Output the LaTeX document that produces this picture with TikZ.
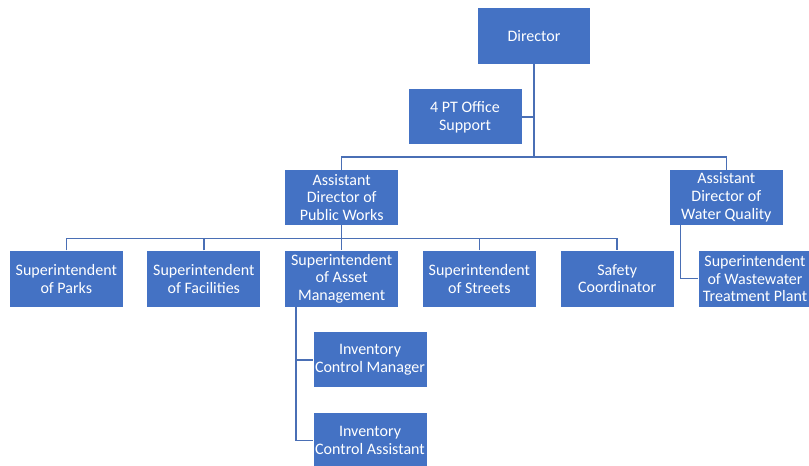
\documentclass[tikz,border=0pt]{standalone}
\usepackage{fontspec}
\setmainfont{Carlito}
\definecolor{boxblue}{HTML}{4472C4}
\definecolor{lineblue}{HTML}{4A6FB5}
\begin{document}
\begin{tikzpicture}[x=0.75pt,y=-0.75pt,
  box/.style={fill=boxblue,draw=none,text=white,minimum width=113*0.75pt,minimum height=55*0.75pt,inner sep=0pt,align=center,font=\fontsize{12}{13.3}\selectfont},
  conn/.style={draw=lineblue,line width=1.1pt}]
\useasboundingbox (0,0) rectangle (809,466);
\clip (0,0) rectangle (809,466);
\node[box,minimum width=112*0.75pt,minimum height=56*0.75pt] (dir) at (534,36) {Director};
\node[box] (ofc) at (465,117) {4 PT Office\\Support};
\node[box] (apw) at (341.7,197.5) {Assistant\\Director of\\Public Works};
\node[box] (awq) at (726.3,197.5) {Assistant\\Director of\\Water Quality};
\node[box,minimum height=56*0.75pt] (parks) at (66.3,278.7) {Superintendent\\of Parks};
\node[box,minimum height=56*0.75pt] (fac) at (203.8,278.7) {Superintendent\\of Facilities};
\node[box,minimum height=56*0.75pt] (asset) at (341.7,278.7) {Superintendent\\of Asset\\Management};
\node[box,minimum height=56*0.75pt] (streets) at (479.3,278.7) {Superintendent\\of Streets};
\node[box,minimum height=56*0.75pt] (safety) at (617.2,278.7) {Safety\\Coordinator};
\node[box,minimum height=56*0.75pt] (waste) at (755,278.7) {Superintendent\\of Wastewater\\Treatment Plant};
\node[box] (icm) at (370,359.8) {Inventory\\Control Manager};
\node[box] (ica) at (370,440.5) {Inventory\\Control Assistant};
\coordinate (b1) at (534,157);
\coordinate (b2) at (341.7,238.3);
\coordinate (wq) at (680.7,225);
\coordinate (av) at (296,306.7);
\draw[conn] (dir.south) -- (b1);
\draw[conn] (ofc.east) -- (ofc.east -| dir.south);
\draw[conn] (apw.north) |- (b1) -| (awq.north);
\draw[conn] (apw.south) -- (asset.north);
\draw[conn] (parks.north) |- (b2) -| (safety.north);
\draw[conn] (fac.north) -- (fac.north |- b2);
\draw[conn] (streets.north) -- (streets.north |- b2);
\draw[conn] (wq) |- (waste.west);
\draw[conn] (av) |- (icm.west);
\draw[conn] (av) |- (ica.west);
\end{tikzpicture}
\end{document}
